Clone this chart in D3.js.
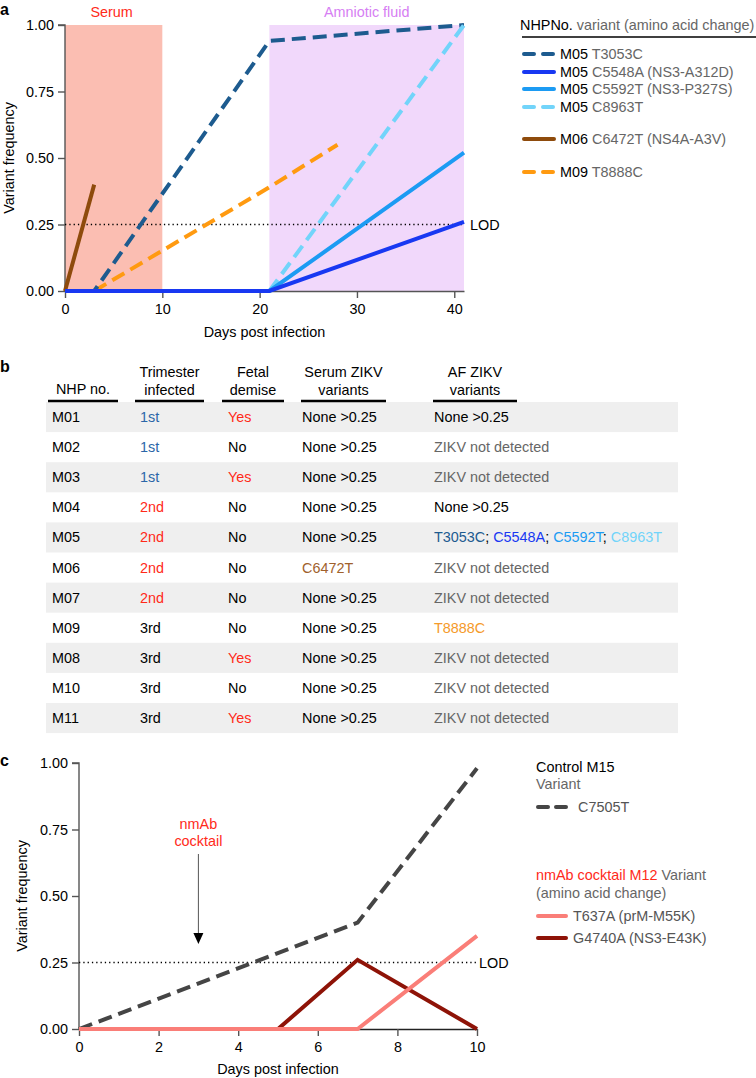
<!DOCTYPE html>
<html><head><meta charset="utf-8">
<script src="https://cdn.jsdelivr.net/npm/d3@7"></script>
<style>
body{margin:0;background:#fff;}
svg{font-family:"Liberation Sans",Arial,Helvetica,sans-serif;}
</style></head>
<body>
<svg id="chart" width="756" height="1078"></svg>
<script>
// ---------- Panel a data ----------
const aYTicks = [0, 0.25, 0.5, 0.75, 1.0];
const aXTicks = [0, 10, 20, 30, 40];
const aRegions = [
  {label: "Serum", x0: 0, x1: 10, fill: "#fbbeb2", color: "#ff2a1a"},
  {label: "Amniotic fluid", x0: 21, x1: 41, fill: "#f1d8fb", color: "#d67ef3"}
];
const aSeriesNames = ["T3053C", "C5548A", "C5592T", "C8963T", "C6472T", "T8888C"];
const aSeriesNHP = ["M05", "M05", "M05", "M05", "M06", "M09"];
const aSeriesLabels = ["T3053C", "C5548A (NS3-A312D)", "C5592T (NS3-P327S)", "C8963T", "C6472T (NS4A-A3V)", "T8888C"];
const aSeriesColors = ["#1d5b8f", "#1838f2", "#1c9bf3", "#72d4fa", "#8e4b0c", "#ff9a10"];
const aSeriesDashed = [true, false, false, true, false, true];
const aDays = {
  T3053C: [0, 3, 21, 41],
  C5548A: [0, 21, 41],
  C5592T: [0, 21, 41],
  C8963T: [21, 41],
  C6472T: [0, 3],
  T8888C: [3, 21, 28]
};
const aFreq = {
  T3053C: [0, 0, 0.94, 1.0],
  C5548A: [0, 0, 0.26],
  C5592T: [0, 0, 0.52],
  C8963T: [0, 1.0],
  C6472T: [0, 0.40],
  T8888C: [0, 0.39, 0.55]
};
const drawOrder = ["C6472T", "T8888C", "T3053C", "C8963T", "C5592T", "C5548A"];
const LOD = 0.25;

// ---------- Panel b data ----------
const tHeaders = [["NHP no."], ["Trimester", "infected"], ["Fetal", "demise"], ["Serum ZIKV", "variants"], ["AF ZIKV", "variants"]];
const tNHP = ["M01", "M02", "M03", "M04", "M05", "M06", "M07", "M09", "M08", "M10", "M11"];
const tTrimester = ["1st", "1st", "1st", "2nd", "2nd", "2nd", "2nd", "3rd", "3rd", "3rd", "3rd"];
const tDemise = ["Yes", "No", "Yes", "No", "No", "No", "No", "No", "Yes", "No", "Yes"];
const tSerum = ["None >0.25", "None >0.25", "None >0.25", "None >0.25", "None >0.25", "C6472T", "None >0.25", "None >0.25", "None >0.25", "None >0.25", "None >0.25"];
const tAF = ["None >0.25", "ZIKV not detected", "ZIKV not detected", "None >0.25", "T3053C; C5548A; C5592T; C8963T", "ZIKV not detected", "ZIKV not detected", "T8888C", "ZIKV not detected", "ZIKV not detected", "ZIKV not detected"];

// ---------- Panel c data ----------
const cYTicks = [0, 0.25, 0.5, 0.75, 1.0];
const cXTicks = [0, 2, 4, 6, 8, 10];
const cSeriesNames = ["C7505T", "G4740A", "T637A"];
const cSeriesLabels = ["C7505T", "G4740A (NS3-E43K)", "T637A (prM-M55K)"];
const cSeriesColors = ["#454545", "#8e1307", "#fa7e78"];
const cSeriesDashed = [true, false, false];
const cDays = {
  C7505T: [0, 7, 10],
  G4740A: [0, 5, 7, 10],
  T637A: [0, 7, 10]
};
const cFreq = {
  C7505T: [0, 0.40, 0.98],
  G4740A: [0, 0, 0.26, 0],
  T637A: [0, 0, 0.35]
};
const cTreatmentDay = 3;

// ================= drawing =================
const svg = d3.select("#chart");
const FS = 14.4;
const axisColor = "#555";

function panelLabel(t, x, y) {
  svg.append("text").attr("x", x).attr("y", y).text(t)
    .attr("font-weight", "bold").attr("font-size", 16).attr("fill", "#000");
}

function drawAxes(g, x, y, xTicks, yTicks, xFmt, yFmt) {
  const yAx = d3.axisLeft(y).tickValues(yTicks).tickFormat(yFmt).tickSize(7).tickSizeOuter(0).tickPadding(4);
  const gy = g.append("g").attr("transform", `translate(${x.range()[0]},0)`).call(yAx);
  const xAx = d3.axisBottom(x).tickValues(xTicks).tickFormat(xFmt).tickSize(7).tickSizeOuter(0).tickPadding(6);
  const gx = g.append("g").attr("transform", `translate(0,${y.range()[0]})`).call(xAx);
  [gx, gy].forEach(a => {
    a.select(".domain").attr("stroke", axisColor).attr("stroke-width", 1.4);
    a.selectAll(".tick line").attr("stroke", axisColor).attr("stroke-width", 1.4);
    a.selectAll("text").attr("font-size", FS).attr("fill", "#000").attr("font-family", null);
  });
  gy.select(".domain").remove();
  return {gx, gy};
}

// ---------- Panel a ----------
panelLabel("a", 0, 15);
const ax = d3.scaleLinear().domain([0, 41]).range([65, 464]);
const ay = d3.scaleLinear().domain([0, 1]).range([291, 25]);
const ga = svg.append("g");

ga.selectAll("rect.region").data(aRegions).enter().append("rect")
  .attr("x", d => ax(d.x0)).attr("width", d => ax(d.x1) - ax(d.x0))
  .attr("y", ay(1)).attr("height", ay(0) - ay(1)).attr("fill", d => d.fill);
ga.selectAll("text.region").data(aRegions).enter().append("text")
  .attr("x", d => (ax(d.x0) + ax(d.x1)) / 2 + (d.label === "Serum" ? -2 : 0))
  .attr("y", 17).attr("text-anchor", "middle").attr("font-size", FS)
  .attr("fill", d => d.color).text(d => d.label);

ga.append("path").attr("d", `M${ax(0) - 7},${ay(1)}H${ax(0)}V${ay(0)}`)
  .attr("fill", "none").attr("stroke", axisColor).attr("stroke-width", 1.4);
drawAxes(ga, ax, ay, aXTicks, aYTicks, d3.format("d"), d3.format(".2f"));

ga.append("line").attr("x1", ax(0)).attr("x2", ax(41)).attr("y1", ay(LOD)).attr("y2", ay(LOD))
  .attr("stroke", "#000").attr("stroke-width", 1.3).attr("stroke-dasharray", "1.3,3");
ga.append("text").attr("x", ax(41) + 6).attr("y", ay(LOD) + 5).attr("font-size", FS).text("LOD");

const aLine = d3.line().x(d => ax(d[0])).y(d => ay(d[1]));
drawOrder.forEach(name => {
  const i = aSeriesNames.indexOf(name);
  const pts = aDays[name].map((d, k) => [d, aFreq[name][k]]);
  ga.append("path").attr("d", aLine(pts)).attr("fill", "none")
    .attr("stroke", aSeriesColors[i]).attr("stroke-width", 4)
    .attr("stroke-dasharray", aSeriesDashed[i] ? "14,7" : null);
});
ga.append("text").attr("x", (ax(0) + ax(41)) / 2).attr("y", 337).attr("text-anchor", "middle")
  .attr("font-size", FS).text("Days post infection");
ga.append("text").attr("transform", `translate(14,${(ay(0) + ay(1)) / 2}) rotate(-90)`)
  .attr("text-anchor", "middle").attr("font-size", FS).text("Variant frequency");

// legend a
const lg = svg.append("g");
const hdr = lg.append("text").attr("x", 520).attr("y", 30).attr("font-size", FS);
hdr.append("tspan").attr("fill", "#000").text("NHPNo.");
hdr.append("tspan").attr("fill", "#666").text(" variant (amino acid change)");
lg.append("line").attr("x1", 522).attr("x2", 756).attr("y1", 37).attr("y2", 37).attr("stroke", "#000").attr("stroke-width", 1.3);
const legYs = [54, 72, 89, 107, 139, 172];
aSeriesNames.forEach((name, i) => {
  const yy = legYs[i];
  lg.append("line").attr("x1", 524).attr("x2", 554).attr("y1", yy).attr("y2", yy)
    .attr("stroke", aSeriesColors[i]).attr("stroke-width", 4).attr("stroke-linecap", "round")
    .attr("stroke-dasharray", aSeriesDashed[i] ? "10,9" : null);
  const t = lg.append("text").attr("x", 560).attr("y", yy + 5).attr("font-size", FS);
  t.append("tspan").attr("fill", "#000").text(aSeriesNHP[i]);
  t.append("tspan").attr("fill", "#666").text(" " + aSeriesLabels[i]);
});

// ---------- Panel b ----------
panelLabel("b", 0, 372);
const colX = [52, 140, 228, 302, 434];
const colUnder = [[48, 118], [135, 204], [222, 284], [301, 386], [433, 517]];
const rowTop = 402, rowH = 30.1;
const gb = svg.append("g");
tNHP.forEach((d, i) => {
  if (i % 2 === 0) gb.append("rect").attr("x", 46).attr("width", 632).attr("y", rowTop + i * rowH).attr("height", rowH).attr("fill", "#efefef");
});
tHeaders.forEach((h, j) => {
  const cxh = (colUnder[j][0] + colUnder[j][1]) / 2;
  const t = gb.append("text").attr("text-anchor", "middle").attr("font-size", FS);
  const start = h.length === 1 ? 394 : 377;
  h.forEach((ln, k) => t.append("tspan").attr("x", cxh).attr("y", start + k * 17.5).text(ln));
  gb.append("line").attr("x1", colUnder[j][0]).attr("x2", colUnder[j][1]).attr("y1", 401).attr("y2", 401)
    .attr("stroke", "#000").attr("stroke-width", 2.5);
});
const trimColor = {"1st": "#2b66a8", "2nd": "#ff2a1a", "3rd": "#000"};
const afColors = {"T3053C": "#1d5b8f", "C5548A": "#1838f2", "C5592T": "#1c9bf3", "C8963T": "#72d4fa", "T8888C": "#f59a2a"};
tNHP.forEach((d, i) => {
  const yy = rowTop + i * rowH + rowH / 2 + 5;
  gb.append("text").attr("x", colX[0]).attr("y", yy).attr("font-size", FS).text(d);
  gb.append("text").attr("x", colX[1]).attr("y", yy).attr("font-size", FS).attr("fill", trimColor[tTrimester[i]]).text(tTrimester[i]);
  gb.append("text").attr("x", colX[2]).attr("y", yy).attr("font-size", FS).attr("fill", tDemise[i] === "Yes" ? "#ff2a1a" : "#000").text(tDemise[i]);
  gb.append("text").attr("x", colX[3]).attr("y", yy).attr("font-size", FS).attr("fill", tSerum[i] === "C6472T" ? "#a0612c" : "#000").text(tSerum[i]);
  const t = gb.append("text").attr("x", colX[4]).attr("y", yy).attr("font-size", FS);
  if (tAF[i] === "ZIKV not detected") t.attr("fill", "#666").text(tAF[i]);
  else if (tAF[i] === "None >0.25") t.attr("fill", "#000").text(tAF[i]);
  else {
    const parts = tAF[i].split("; ");
    parts.forEach((p, k) => {
      t.append("tspan").attr("fill", afColors[p]).text(p);
      if (k < parts.length - 1) t.append("tspan").attr("fill", "#000").text("; ");
    });
  }
});

// ---------- Panel c ----------
panelLabel("c", 0, 766);
const cx = d3.scaleLinear().domain([0, 10]).range([79, 477]);
const cy = d3.scaleLinear().domain([0, 1]).range([1029, 763]);
const gc = svg.append("g");
gc.append("path").attr("d", `M${cx(0) - 7},${cy(1)}H${cx(0)}V${cy(0)}`)
  .attr("fill", "none").attr("stroke", axisColor).attr("stroke-width", 1.4);
const cAxes = drawAxes(gc, cx, cy, cXTicks, cYTicks, d3.format("d"), d3.format(".2f"));
cAxes.gx.select(".domain").attr("stroke", "#222");

gc.append("line").attr("x1", cx(0)).attr("x2", cx(10)).attr("y1", cy(LOD)).attr("y2", cy(LOD))
  .attr("stroke", "#000").attr("stroke-width", 1.3).attr("stroke-dasharray", "1.3,3");
gc.append("text").attr("x", cx(10) + 2).attr("y", cy(LOD) + 5).attr("font-size", FS).text("LOD");

const axX = cx(cTreatmentDay);
gc.append("text").attr("x", axX).attr("y", 829).attr("text-anchor", "middle").attr("font-size", FS).attr("fill", "#ff2a1a").text("nmAb");
gc.append("text").attr("x", axX).attr("y", 846).attr("text-anchor", "middle").attr("font-size", FS).attr("fill", "#ff2a1a").text("cocktail");
gc.append("line").attr("x1", axX).attr("x2", axX).attr("y1", 854).attr("y2", 934).attr("stroke", "#555").attr("stroke-width", 1);
gc.append("path").attr("d", `M${axX - 5},${933}L${axX + 5},${933}L${axX},${944}Z`).attr("fill", "#000");

const cLine = d3.line().x(d => cx(d[0])).y(d => cy(d[1]));
cSeriesNames.forEach((name, i) => {
  const pts = cDays[name].map((d, k) => [d, cFreq[name][k]]);
  gc.append("path").attr("d", cLine(pts)).attr("fill", "none")
    .attr("stroke", cSeriesColors[i]).attr("stroke-width", 4)
    .attr("stroke-dasharray", cSeriesDashed[i] ? "14,7" : null);
});
gc.append("text").attr("x", (cx(0) + cx(10)) / 2).attr("y", 1074).attr("text-anchor", "middle")
  .attr("font-size", FS).text("Days post infection");
gc.append("text").attr("transform", `translate(27,${(cy(0) + cy(1)) / 2}) rotate(-90)`)
  .attr("text-anchor", "middle").attr("font-size", FS).text("Variant frequency");

// legend c
const lc = svg.append("g");
lc.append("text").attr("x", 536).attr("y", 772).attr("font-size", FS).attr("fill", "#000").text("Control M15");
lc.append("text").attr("x", 536).attr("y", 789).attr("font-size", FS).attr("fill", "#666").text("Variant");
const cLegY = [807, 938, 916];
const cLegX = [578, 573, 573];
cSeriesNames.forEach((name, i) => {
  const yy = cLegY[i];
  lc.append("line").attr("x1", 538).attr("x2", 566).attr("y1", yy).attr("y2", yy)
    .attr("stroke", cSeriesColors[i]).attr("stroke-width", 4).attr("stroke-linecap", "round")
    .attr("stroke-dasharray", cSeriesDashed[i] ? "10,8" : null);
  lc.append("text").attr("x", cLegX[i]).attr("y", yy + 5).attr("font-size", FS).attr("fill", "#555").text(cSeriesLabels[i]);
});
const h2 = lc.append("text").attr("x", 536).attr("y", 880).attr("font-size", FS);
h2.append("tspan").attr("fill", "#ff2a1a").text("nmAb cocktail M12");
h2.append("tspan").attr("fill", "#666").text(" Variant");
lc.append("text").attr("x", 536).attr("y", 898).attr("font-size", FS).attr("fill", "#666").text("(amino acid change)");
</script>
</body></html>
